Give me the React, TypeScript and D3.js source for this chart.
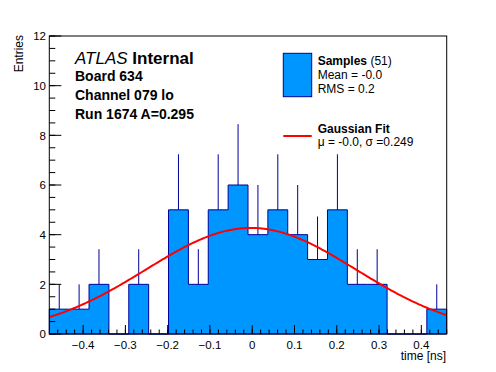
import React from "react";
import * as d3 from "d3";

const binCounts = [1, 1, 2, 0, 2, 0, 5, 2, 5, 6, 4, 5, 4, 3, 5, 2, 2, 0, 0, 1];
const xDomain = [-0.48, 0.46];
const yDomain = [0, 12];
const xTickValues = [-0.4, -0.3, -0.2, -0.1, 0, 0.1, 0.2, 0.3, 0.4];
const yTickValues = [0, 2, 4, 6, 8, 10, 12];
const fitAmp = 4.27;
const fitMean = -0.003;
const fitSigma = 0.249;
const headerLines = ["Board 634", "Channel 079 lo", "Run 1674 A=0.295"];

const W = 496;
const H = 372;
const FONT = "'Liberation Sans', Arial, Helvetica, sans-serif";
const FILL = "#0096ff";
const EDGE = "#000099";

export default function App() {
  const left = 49.3, right = 446.7, top = 36, bottom = 334;
  const x = d3.scaleLinear().domain(xDomain).range([left, right]);
  const y = d3.scaleLinear().domain(yDomain).range([bottom, top]);
  const nb = binCounts.length;
  const bw = (xDomain[1] - xDomain[0]) / nb;
  const edges = d3.range(nb + 1).map((i) => xDomain[0] + i * bw);

  let outline = `M${x(edges[0])},${y(0)}`;
  binCounts.forEach((c, i) => {
    outline += `L${x(edges[i])},${y(c)}L${x(edges[i + 1])},${y(c)}`;
  });
  outline += `L${x(edges[nb])},${y(0)}Z`;

  const gauss = (t: number) =>
    fitAmp * Math.exp(-((t - fitMean) ** 2) / (2 * fitSigma * fitSigma));
  const curvePts = d3.range(0, 201).map((i) => {
    const t = xDomain[0] + ((xDomain[1] - xDomain[0]) * i) / 200;
    return [t, gauss(t)] as [number, number];
  });
  const line = d3
    .line<[number, number]>()
    .x((d) => x(d[0]))
    .y((d) => y(d[1]));

  const xMinor = d3.range(-0.46, 0.461, 0.02).map((v) => Math.round(v * 100) / 100);
  const yMinor = d3.range(0, 12.01, 0.5);

  const fmtX = (v: number) => {
    if (Math.abs(v) < 1e-9) return "0";
    const s = Math.abs(v).toFixed(1);
    return v < 0 ? "\u2212" + s : s;
  };

  return (
    <svg
      width={W}
      height={H}
      style={{ position: "absolute", left: 0, top: 0, background: "#fff" }}
      fontFamily={FONT}
    >
      <rect x={0} y={0} width={W} height={H} fill="#fff" />
      <path d={outline} fill={FILL} stroke={EDGE} strokeWidth={1} />
      {binCounts.map((c, i) =>
        c > 0 ? (
          <line
            key={"e" + i}
            x1={x((edges[i] + edges[i + 1]) / 2)}
            x2={x((edges[i] + edges[i + 1]) / 2)}
            y1={y(c)}
            y2={y(c + Math.sqrt(c))}
            stroke={EDGE}
            strokeWidth={1}
          />
        ) : null
      )}
      <path d={line(curvePts) || ""} fill="none" stroke="#ff0000" strokeWidth={2} />
      <rect x={left} y={top} width={right - left} height={bottom - top} fill="none" stroke="#000" strokeWidth={1} />
      {xMinor.map((v, i) => (
        <line key={"xm" + i} x1={x(v)} x2={x(v)} y1={bottom} y2={bottom - 4.5} stroke="#000" />
      ))}
      {xTickValues.map((v, i) => (
        <g key={"xt" + i}>
          <line x1={x(v)} x2={x(v)} y1={bottom} y2={bottom - 9} stroke="#000" />
          <text x={x(v)} y={348.5} textAnchor="middle" fontSize={11.5}>
            {fmtX(v)}
          </text>
        </g>
      ))}
      {yMinor.map((v, i) => (
        <line key={"ym" + i} x1={left} x2={left + 6} y1={y(v)} y2={y(v)} stroke="#000" />
      ))}
      {yTickValues.map((v, i) => (
        <g key={"yt" + i}>
          <line x1={left} x2={left + 12} y1={y(v)} y2={y(v)} stroke="#000" />
          <text x={46} y={y(v) + 4.2} textAnchor="end" fontSize={11.5}>
            {v}
          </text>
        </g>
      ))}
      <text x={446} y={360} textAnchor="end" fontSize={12}>
        time [ns]
      </text>
      <text transform={`translate(23,35) rotate(-90)`} textAnchor="end" fontSize={12}>
        Entries
      </text>
      <text x={75} y={63.5} fontSize={17}>
        <tspan fontStyle="italic">ATLAS</tspan>
        <tspan fontWeight="bold"> Internal</tspan>
      </text>
      {headerLines.map((s, i) => (
        <text key={"h" + i} x={75} y={81 + i * 19} fontSize={14} fontWeight="bold">
          {s}
        </text>
      ))}
      <rect x={283.3} y={53.3} width={28.4} height={43.4} fill={FILL} stroke={EDGE} strokeWidth={1} />
      <text x={317.7} y={65} fontSize={12}>
        <tspan fontWeight="bold">Samples</tspan>
        <tspan> (51)</tspan>
      </text>
      <text x={317.7} y={79.3} fontSize={12}>
        Mean = -0.0
      </text>
      <text x={317.7} y={93.3} fontSize={12}>
        RMS = 0.2
      </text>
      <line x1={283.3} x2={311.7} y1={136} y2={136} stroke="#ff0000" strokeWidth={2} />
      <text x={317.7} y={132.7} fontSize={12} fontWeight="bold">
        Gaussian Fit
      </text>
      <text x={317.7} y={145.5} fontSize={12}>
        {"\u03bc = -0.0, \u03c3 =0.249"}
      </text>
    </svg>
  );
}
